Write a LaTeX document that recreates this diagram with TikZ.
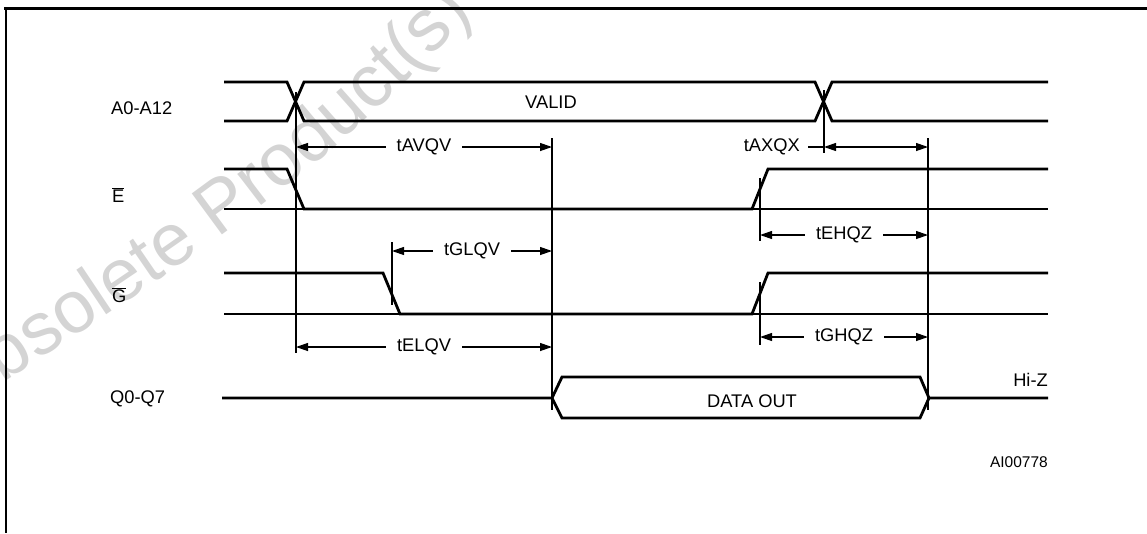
\documentclass[tikz,border=0pt]{standalone}
\usepackage{fontspec}
\setmainfont{Liberation Sans}
\usetikzlibrary{arrows.meta, decorations.text}

\newcommand{\lblfont}{\fontsize{18.3}{22}\selectfont}
\newcommand{\barsig}[1]{$\overline{\hbox{#1}}$}

\begin{document}
\begin{tikzpicture}[x=1pt, y=-1pt,
        sig/.style={line width=2.8pt},
        rail/.style={line width=2pt},
        guide/.style={line width=1.2pt},
        dim/.style={{Triangle[length=12pt, width=8pt]}-{Triangle[length=12pt, width=8pt]}, line width=1.2pt},
        lbl/.style={font=\lblfont, inner sep=0pt},
        tlab/.style={font=\lblfont, fill=white, inner xsep=11pt, inner ysep=2pt}
    ]
    \useasboundingbox (0,0) rectangle (1147,533);

    % Marca de agua
    \path[decorate, decoration={text along path, text color=black!17,
        text={|\fontsize{74}{78}\selectfont|Obsolete Product(s)}}]
        (-45,415) .. controls (195,255) and (340,170) .. (505,-25);

    % Marco
    \draw[line width=3pt] (4,8) -- (1147,8);
    \draw[line width=2pt] (6,8) -- (6,533);

    % Nombres de senales
    \node[lbl, anchor=base west] (nAddr) at (111,114) {A0-A12};
    \node[lbl, anchor=base west] (nE) at (112,202) {\barsig{E}};
    \node[lbl, anchor=base west] (nG) at (112,302) {\barsig{G}};
    \node[lbl, anchor=base west] (nQ) at (110,403) {Q0-Q7};

    % A0-A12
    \draw[sig] (224,82) -- (287,82) -- (304,121) -- (815,121) -- (832,82) -- (1048,82);
    \draw[sig] (224,121) -- (287,121) -- (304,82) -- (815,82) -- (832,121) -- (1048,121);
    \node[lbl, anchor=base] (valid) at (551,108) {VALID};

    % E
    \draw[rail] (224,209) -- (1048,209);
    \draw[sig] (224,169) -- (287,169) -- (304,209) -- (752,209) -- (768,169) -- (1048,169);

    % G
    \draw[rail] (224,314) -- (1048,314);
    \draw[sig] (224,273) -- (383,273) -- (400,314) -- (752,314) -- (768,273) -- (1048,273);

    % Q0-Q7
    \draw[sig] (222,398) -- (552,398) -- (562,377) -- (920,377) -- (929,398) -- (1048,398);
    \draw[sig] (552,398) -- (562,418) -- (920,418) -- (929,398);
    \node[lbl, anchor=base] (dout) at (752,407) {DATA OUT};
    \node[lbl, anchor=base east] (hiz) at (1048,386) {Hi-Z};

    % Lineas de referencia
    \draw[guide] (296,92) -- (296,353);
    \draw[guide] (552,138) -- (552,410);
    \draw[guide] (392,242) -- (392,305);
    \draw[guide] (824,90) -- (824,153);
    \draw[guide] (760,178) -- (760,241);
    \draw[guide] (760,282) -- (760,345);
    \draw[guide] (928,138) -- (928,410);

    % Cotas de tiempo
    \coordinate (avS) at (296,147);  \coordinate (avE) at (552,147);
    \coordinate (axS) at (824,147);  \coordinate (axE) at (928,147);
    \coordinate (glS) at (392,251);  \coordinate (glE) at (552,251);
    \coordinate (elS) at (296,347);  \coordinate (elE) at (552,347);
    \coordinate (ehS) at (760,235);  \coordinate (ehE) at (928,235);
    \coordinate (ghS) at (760,337);  \coordinate (ghE) at (928,337);

    \draw[dim] (avS) -- (avE) node[midway, tlab] (tAVQV) {tAVQV};
    \draw[dim] (glS) -- (glE) node[midway, tlab] (tGLQV) {tGLQV};
    \draw[dim] (elS) -- (elE) node[midway, tlab] (tELQV) {tELQV};
    \draw[dim] (ehS) -- (ehE) node[midway, tlab] (tEHQZ) {tEHQZ};
    \draw[dim] (ghS) -- (ghE) node[midway, tlab] (tGHQZ) {tGHQZ};
    \draw[dim] (axS) -- (axE);
    \node[tlab, anchor=east, inner xsep=8pt] (tAXQX) at (808,147) {tAXQX};
    \draw[guide] (tAXQX.east) -- (axS);

    \node[lbl, anchor=base east, font=\fontsize{15.5}{18}\selectfont] (ref) at (1048,467) {AI00778};
\end{tikzpicture}
\end{document}
